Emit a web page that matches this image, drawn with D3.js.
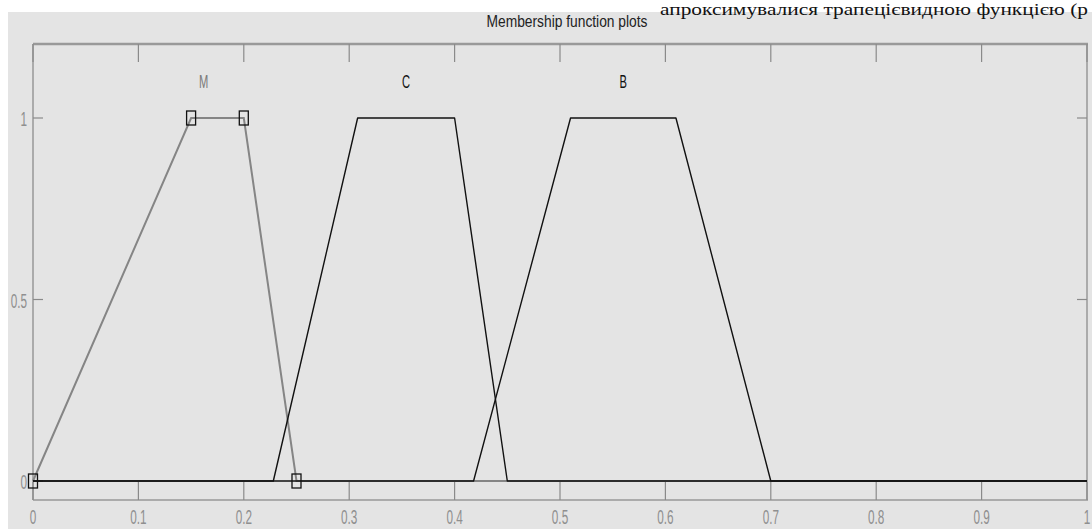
<!DOCTYPE html>
<html>
  <head>
    <title>Membership function plots</title>
    <script src="https://d3js.org/d3.v7.min.js"></script>
    <style>
      body { margin: 0; background: #ffffff; }
      svg { display: block; }
      .tick-label { font-family: "Liberation Sans", Arial, sans-serif; fill: #8f8f8f; }
    </style>
  </head>
  <body>
    <div id="chart"></div>
    <script>
      // Membership functions (trapezoid parameters a, b, c, d)
      const names = ["M", "C", "B"];
      const paramsM = [0, 0.15, 0.2, 0.25];
      const paramsC = [0.228, 0.308, 0.4, 0.45];
      const paramsB = [0.418, 0.51, 0.61, 0.7];
      const labelPos = [0.162, 0.354, 0.56];
      const xTicks = [0, 0.1, 0.2, 0.3, 0.4, 0.5, 0.6, 0.7, 0.8, 0.9, 1];
      const yTicks = [0, 0.5, 1];

      const params = [paramsM, paramsC, paramsB];

      // Plot box in page pixels
      const W = 1092, H = 529;
      const box = { left: 33, right: 1087, top: 44, bottom: 500 };

      const svg = d3.select("#chart").append("svg")
        .attr("width", W)
        .attr("height", H);

      // grey panel (white strips at top and left)
      svg.append("rect")
        .attr("x", 8).attr("y", 12)
        .attr("width", W - 8).attr("height", H - 12)
        .attr("fill", "#e4e4e4");

      // caption line of the surrounding page, at the top right
      svg.append("text")
        .attr("x", 660).attr("y", 15)
        .attr("font-family", "Liberation Serif, Times New Roman, serif")
        .attr("font-size", 16)
        .attr("textLength", 428)
        .attr("lengthAdjust", "spacingAndGlyphs")
        .attr("fill", "#111")
        .text("апроксимувалися трапецієвидною функцією (р");

      // title
      svg.append("text")
        .attr("x", 567).attr("y", 27)
        .attr("text-anchor", "middle")
        .attr("font-family", "Liberation Sans, Arial, sans-serif")
        .attr("font-size", 16)
        .attr("textLength", 161)
        .attr("lengthAdjust", "spacingAndGlyphs")
        .attr("fill", "#222")
        .text("Membership function plots");

      const x = d3.scaleLinear().domain([0, 1]).range([box.left, box.right]);
      const y = d3.scaleLinear().domain([0, 1]).range([481, 118]);

      const frameColor = "#999999";

      // frame
      svg.append("line")
        .attr("x1", box.left).attr("x2", box.right + 1)
        .attr("y1", box.top).attr("y2", box.top)
        .attr("stroke", frameColor).attr("stroke-width", 2.5);
      svg.append("line")
        .attr("x1", box.left).attr("x2", box.right + 1)
        .attr("y1", box.bottom).attr("y2", box.bottom)
        .attr("stroke", frameColor).attr("stroke-width", 1.5);
      svg.append("line")
        .attr("x1", box.left).attr("x2", box.left)
        .attr("y1", box.top).attr("y2", box.bottom)
        .attr("stroke", frameColor).attr("stroke-width", 1.5);
      svg.append("line")
        .attr("x1", box.right).attr("x2", box.right)
        .attr("y1", box.top).attr("y2", box.bottom)
        .attr("stroke", frameColor).attr("stroke-width", 1.5);

      // x ticks (top and bottom, inward)
      const xt = svg.append("g");
      xt.selectAll(".xtb").data(xTicks).enter().append("line")
        .attr("x1", d => x(d)).attr("x2", d => x(d))
        .attr("y1", box.bottom).attr("y2", box.bottom - 18)
        .attr("stroke", "#8a8a8a").attr("stroke-width", 1.2);
      xt.selectAll(".xtt").data(xTicks).enter().append("line")
        .attr("x1", d => x(d)).attr("x2", d => x(d))
        .attr("y1", box.top).attr("y2", box.top + 18)
        .attr("stroke", "#8a8a8a").attr("stroke-width", 1.2);
      xt.selectAll("text").data(xTicks).enter().append("text")
        .attr("class", "tick-label")
        .attr("font-size", 21)
        .attr("text-anchor", "middle")
        .attr("transform", d => `translate(${Math.min(x(d), 1088)},${524}) scale(0.56,1)`)
        .text(d => d3.format("~g")(d));

      // y ticks (left and right, inward)
      const yt = svg.append("g");
      yt.selectAll(".ytl").data(yTicks).enter().append("line")
        .attr("x1", box.left).attr("x2", box.left + 10)
        .attr("y1", d => y(d)).attr("y2", d => y(d))
        .attr("stroke", "#8a8a8a").attr("stroke-width", 1.2);
      yt.selectAll(".ytr").data(yTicks).enter().append("line")
        .attr("x1", box.right).attr("x2", box.right - 10)
        .attr("y1", d => y(d)).attr("y2", d => y(d))
        .attr("stroke", "#8a8a8a").attr("stroke-width", 1.2);
      yt.selectAll("text").data(yTicks).enter().append("text")
        .attr("class", "tick-label")
        .attr("font-size", 21)
        .attr("text-anchor", "end")
        .attr("transform", d => `translate(27,${y(d) + 8}) scale(0.56,1)`)
        .text(d => d3.format("~g")(d));

      // trapezoid polyline over whole universe
      const trap = p => [[0, 0], [p[0], 0], [p[1], 1], [p[2], 1], [p[3], 0], [1, 0]];
      const line = d3.line().x(d => x(d[0])).y(d => y(d[1]));

      // selected MF (M) in grey, drawn first
      svg.append("path")
        .attr("d", line(trap(paramsM)))
        .attr("fill", "none")
        .attr("stroke", "#858585")
        .attr("stroke-width", 2);

      // other MFs in black
      svg.selectAll(".mf").data(params.slice(1)).enter().append("path")
        .attr("d", d => line(trap(d)))
        .attr("fill", "none")
        .attr("stroke", "#111")
        .attr("stroke-width", 1.4)
        .attr("stroke-linejoin", "round");

      // handle squares on selected MF
      const handles = [[paramsM[0], 0], [paramsM[1], 1], [paramsM[2], 1], [paramsM[3], 0]];
      svg.selectAll(".handle").data(handles).enter().append("rect")
        .attr("x", d => x(d[0]) - 4.5)
        .attr("y", d => y(d[1]) - 7)
        .attr("width", 9).attr("height", 14)
        .attr("fill", "none")
        .attr("stroke", "#111")
        .attr("stroke-width", 1.3);

      // MF names
      svg.selectAll(".name").data(names).enter().append("text")
        .attr("font-family", "Liberation Sans, Arial, sans-serif")
        .attr("font-size", 18)
        .attr("text-anchor", "middle")
        .attr("fill", (d, i) => i === 0 ? "#7a7a7a" : "#111")
        .attr("transform", (d, i) => `translate(${x(labelPos[i])},88) scale(0.62,1)`)
        .text(d => d);
    </script>
  </body>
</html>
